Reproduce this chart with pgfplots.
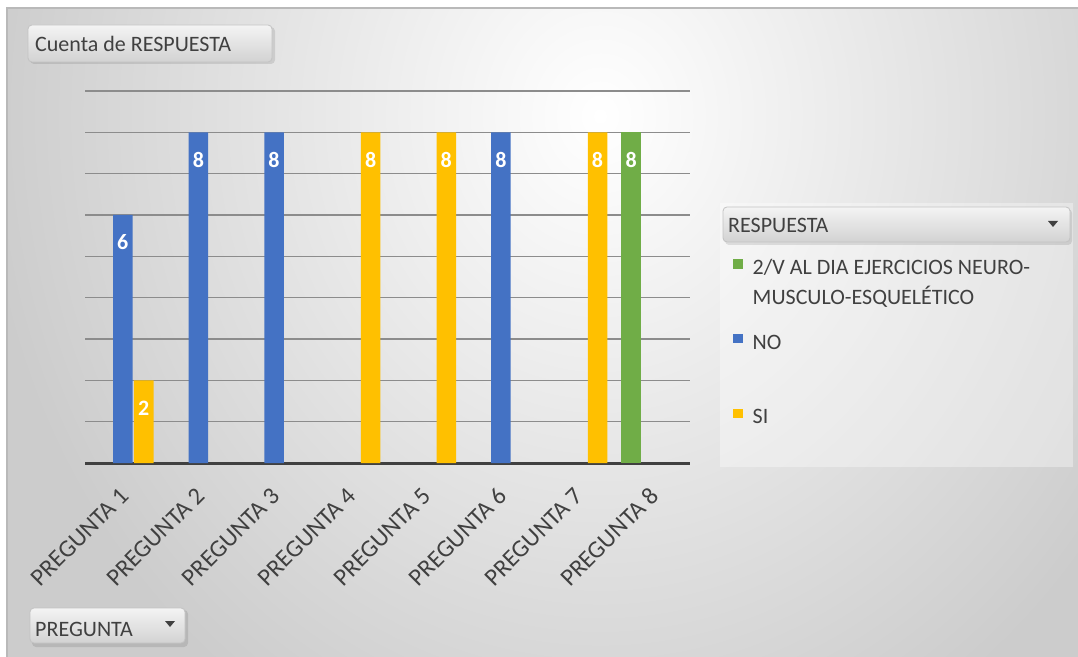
\documentclass[border=0pt]{standalone}
\usepackage{pgfplots}
\pgfplotsset{compat=1.18}
\usetikzlibrary{backgrounds}
\usepackage{fontspec}
\setmainfont{Carlito}
\definecolor{barblue}{HTML}{4472C4}
\definecolor{baryellow}{HTML}{FFC000}
\definecolor{bargreen}{HTML}{70AD47}
\definecolor{txt}{HTML}{404040}
\definecolor{gridc}{HTML}{8C8C8C}
\definecolor{bgend}{HTML}{CCCCCC}
\definecolor{bgmid}{HTML}{F7F7F7}
\definecolor{btntop}{HTML}{F4F4F4}
\definecolor{btnbot}{HTML}{D2D2D2}
\definecolor{btnline}{HTML}{C3C3C3}
\definecolor{frameline}{HTML}{B9B9B9}
\definecolor{axisline}{HTML}{404040}
\pgfdeclareradialshading{bgshade}{\pgfpoint{0bp}{0bp}}{color(0bp)=(white); color(4bp)=(bgmid); color(25bp)=(bgend); color(50bp)=(bgend)}
\newcommand{\lbl}{\fontsize{22}{26}\selectfont}
\begin{document}
\begin{tikzpicture}[x=1pt,y=1pt,
  btn/.style={rounded corners=4pt, top color=btntop, bottom color=btnbot, draw=btnline, line width=0.8pt}]
\path[use as bounding box] (0pt,0pt) rectangle (1078pt,656pt);
\begin{axis}[
  at={(85pt,193pt)}, anchor=south west,
  width=605pt, height=372pt, scale only axis,
  xmin=-0.5, xmax=7.5, ymin=0, ymax=9,
  axis x line*=bottom, axis y line*=left,
  y axis line style={draw=none},
  x axis line style={line width=3pt, color=axisline},
  ytick={1,2,3,4,5,6,7,8,9}, yticklabels={},
  ymajorgrids, grid style={gridc, line width=1.6pt},
  major tick length=0pt,
  xtick={0,1,2,3,4,5,6,7},
  xticklabels={PREGUNTA 1,PREGUNTA 2,PREGUNTA 3,PREGUNTA 4,PREGUNTA 5,PREGUNTA 6,PREGUNTA 7,PREGUNTA 8},
  xticklabel style={xshift=2pt, yshift=-29pt, rotate=45, anchor=east, text=txt, font=\fontsize{24.5}{29}\selectfont, inner sep=0pt},
  /pgf/number format/assume math mode=true,
  ybar, bar width=19.5pt,
  nodes near coords,
  every node near coord/.append style={anchor=center, yshift=-27.5pt, text=white, font=\bfseries\lbl},
  legend cell align=left,
  legend image code/.code={\fill[#1] (0pt,-0.5pt) rectangle (9.5pt,9pt);},
  legend style={at={(axis description cs:1.0711,0.5484)}, anchor=north west, draw=none, fill=none, inner sep=0pt,
    nodes={inner sep=0pt, text=txt, font=\lbl}, row sep=58pt,
    /tikz/every odd column/.append style={column sep=10pt}},
]
\addplot[fill=bargreen, draw=none, bar shift=-21pt] coordinates {(7,8)};
\addlegendentry{\rule{0pt}{14pt}\smash{\parbox[t]{330pt}{\fontsize{22}{30}\selectfont 2/V AL DIA EJERCICIOS NEURO-\\MUSCULO-ESQUELÉTICO}}}
\addplot[fill=barblue, draw=none, bar shift=0pt] coordinates {(0,6) (1,8) (2,8) (5,8)};
\addlegendentry{\rule{0pt}{14pt}\smash{NO}}
\addplot[fill=baryellow, draw=none, bar shift=21pt] coordinates {(0,2) (3,8) (4,8) (6,8)};
\addlegendentry{\rule{0pt}{14pt}\smash{SI}}
\end{axis}
\begin{scope}[on background layer]
\fill[white] (-2,-2) rectangle (1080,658);
\begin{scope}
\clip (7,-3) rectangle (1081,648);
\fill[bgend] (7,-3) rectangle (1081,648);
\shade[shading=bgshade] (600,540) ellipse (620 and 700);
\end{scope}
\draw[frameline, line width=1.2pt] (7,-3) -- (7,648) -- (1081,648);
\fill[white, opacity=0.35] (720,189) rectangle (1073,453);
\end{scope}
% buttons
\fill[black, opacity=0.10, rounded corners=4pt] (30,592) rectangle (275,629);
\path[btn] (28,594) rectangle (272,631);
\node[anchor=base west, inner sep=0pt, text=txt, font=\lbl] at (35,604) {Cuenta de RESPUESTA};
\fill[black, opacity=0.10, rounded corners=4pt] (32,9) rectangle (188,46);
\path[btn] (30,13) rectangle (185,48);
\node[anchor=base west, inner sep=0pt, text=txt, font=\lbl] at (35,20) {PREGUNTA};
\fill[txt] (165,35) -- (175,35) -- (170,29) -- cycle;
\fill[black, opacity=0.10, rounded corners=4pt] (725,411) rectangle (1072,447);
\path[btn] (723,414) rectangle (1070,449);
\node[anchor=base west, inner sep=0pt, text=txt, font=\lbl] at (728,423) {RESPUESTA};
\fill[txt] (1048,435) -- (1058,435) -- (1053,429) -- cycle;
\end{tikzpicture}
\end{document}
